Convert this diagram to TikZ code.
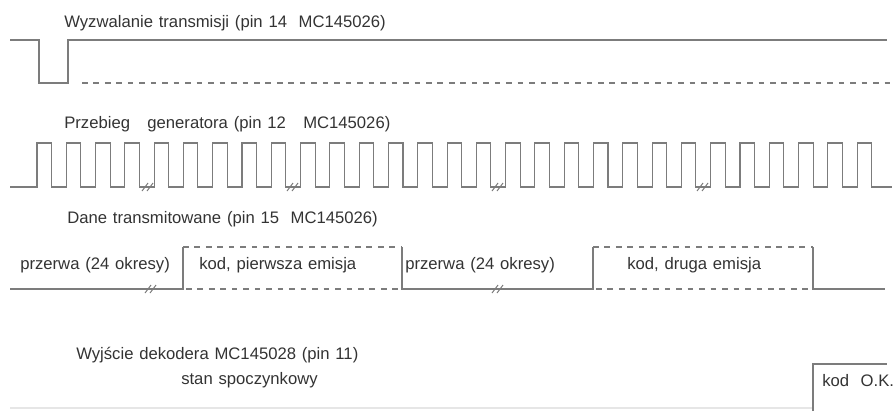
\documentclass[tikz,border=0pt]{standalone}
\usepackage{fontspec}
\setmainfont{Liberation Sans}[WordSpace=1.25]
\usepackage{xcolor}
\usepackage{tikz}
\usetikzlibrary{positioning,calc}
\definecolor{wline}{HTML}{7C7C7C}
\definecolor{wtext}{HTML}{333333}
\definecolor{wfaint}{HTML}{E6E6E6}

\begin{document}
\begin{tikzpicture}[x=0.75pt,y=-0.75pt,
    sig/.style={wline,line width=0.8pt,line join=miter},
    hid/.style={sig,dash pattern=on 4.2pt off 4.4pt},
    brk/.style={wline,line width=0.75pt},
    lbl/.style={anchor=west,inner sep=0pt,text=wtext,
                font=\fontsize{12.5}{14}\selectfont}]
  \useasboundingbox (0,0) rectangle (893,411);

      % trigger trace
      \node[lbl] (ttrig) at (64,23) {Wyzwalanie transmisji (pin 14\ \ MC145026)};
      \draw[sig] (10,40) -- (39,40) -- (39,83) -- (68,83) -- (68,40) -- (887,40);
      \draw[hid] (82,83) -- (893,83);

      % clock trace
      \node[lbl] (tclk) at (64,124) {Przebieg\ \ \ generatora (pin 12\ \ \ MC145026)};
      \draw[sig] (10,187)
        \foreach \k in {0,...,28} {
          -- ({37+29.29*\k},187) -- ({37+29.29*\k},143)
          -- ({51.5+29.29*\k},143) -- ({51.5+29.29*\k},187)}
        -- (892,187);
      \foreach \c in {148,293,498,703} {
        \draw[brk] (\c-6,191) -- (\c,183);
        \draw[brk] (\c-1,191) -- (\c+5,183);
      }

      % data trace
      \node[lbl] (tdat) at (67,219) {Dane transmitowane (pin 15\ \ MC145026)};
      \node[lbl] (p1) at (20,265) {przerwa (24 okresy)};
      \node[lbl] (k1) at (199,265) {kod, pierwsza emisja};
      \node[lbl] (p2) at (405,265) {przerwa (24 okresy)};
      \node[lbl] (k2) at (627,265) {kod, druga emisja};
      \draw[sig] (10,289) -- (183,289) -- (183,247);
      \draw[hid] (183,247) -- (402,247);
      \draw[hid] (186,289) -- (402,289);
      \draw[sig] (402,247) -- (402,289) -- (593,289) -- (593,247);
      \draw[hid] (593,247) -- (813,247);
      \draw[hid] (596,289) -- (813,289);
      \draw[sig] (813,247) -- (813,289) -- (885,289);
      \foreach \c in {151,498} {
        \draw[brk] (\c-6,293) -- (\c,285);
        \draw[brk] (\c-1,293) -- (\c+5,285);
      }

      % decoder output
      \node[lbl] (tdec) at (76,355) {Wyjście dekodera MC145028 (pin 11)};
      \node[lbl] (rest) at (181,380) {stan spoczynkowy};
      \node[lbl] (ok) at (822,381) {kod\ \ O.K.};
      \draw[wfaint,line width=0.8pt] (10,408) -- (813,408);
      \draw[sig] (813,411) -- (813,364) -- (887,364);

\end{tikzpicture}
\end{document}
